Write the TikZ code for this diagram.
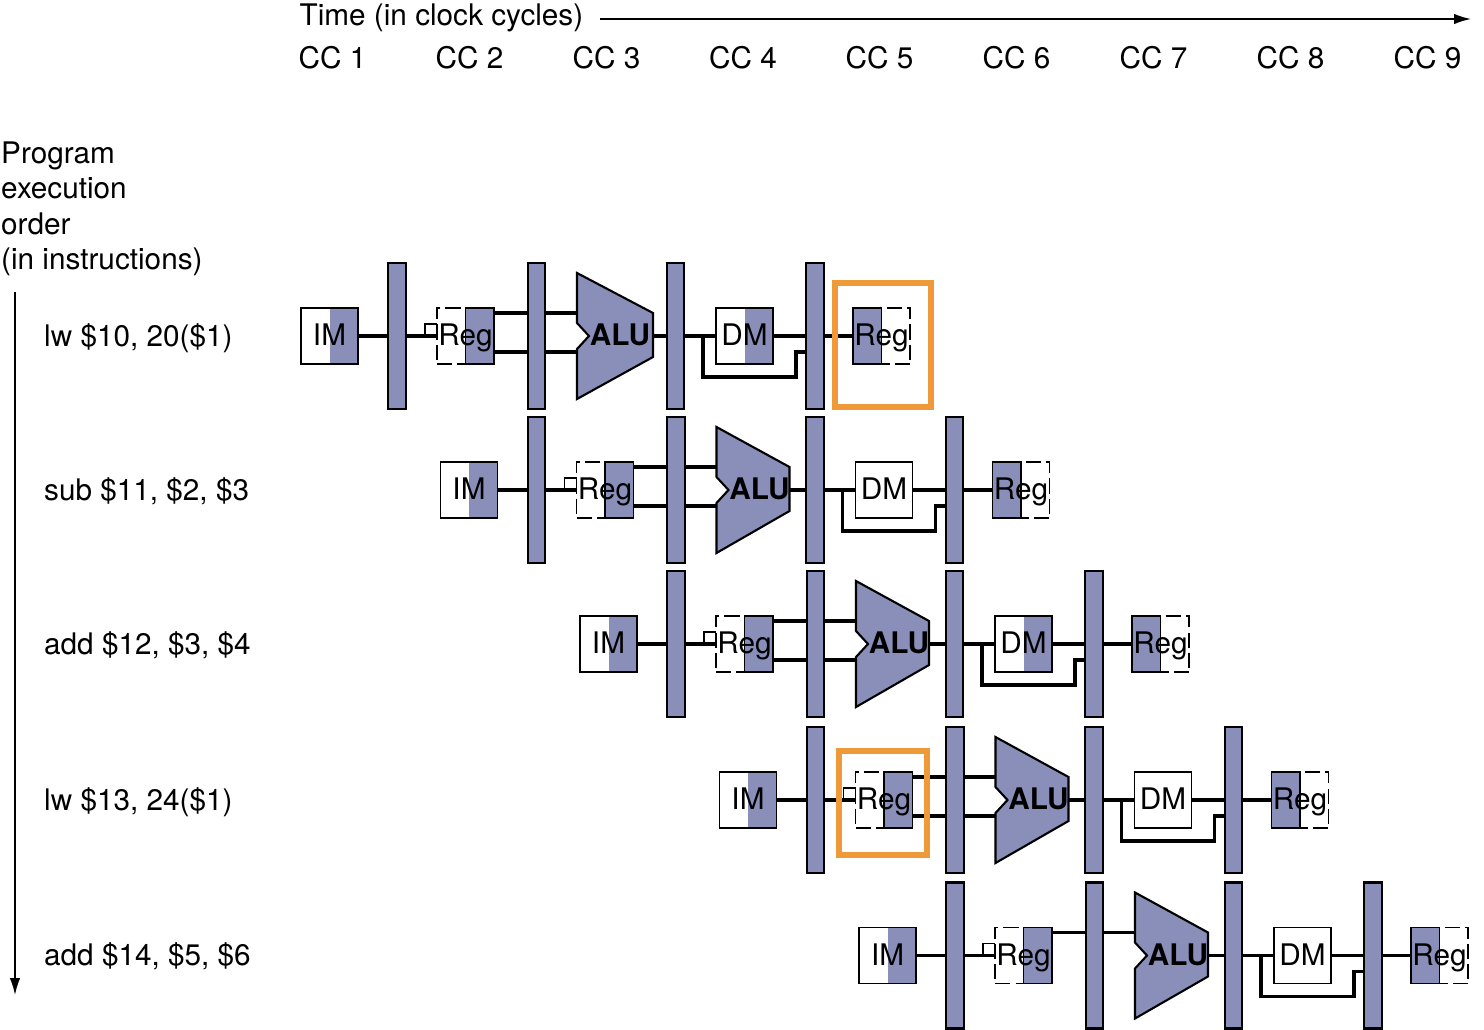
\documentclass[tikz,border=0pt]{standalone}
\usepackage{fontspec}
\setmainfont{TeX Gyre Heros}
\usepackage{xcolor}
\usetikzlibrary{arrows.meta, backgrounds}
\definecolor{pipeblue}{HTML}{8A8FBA}
\definecolor{hazardorange}{HTML}{EF9A38}
\tikzset{
  pipetext/.style={font=\fontsize{8.45}{10.09}\selectfont},
  cyclelabel/.style={pipetext, anchor=base west, inner sep=0pt},
  instrlabel/.style={pipetext, anchor=base west, inner sep=0pt},
  stagebox/.style={
    pipetext, inner sep=0pt, outer sep=0pt, text height=0.25cm, text depth=0.06cm,
    minimum width=0.57cm, minimum height=0.56cm
  },
  leftshade/.style={
    path picture={\fill[pipeblue] (path picture bounding box.south west)
      rectangle (path picture bounding box.north);}
  },
  rightshade/.style={
    path picture={\fill[pipeblue] (path picture bounding box.south)
      rectangle (path picture bounding box.north east);}
  },
  noshade/.style={},
  solidbox/.style={stagebox, draw, line width=0.5pt},
  latchbar/.style={
    draw, fill=pipeblue, line width=0.6pt, inner sep=0pt, outer sep=0pt,
    minimum width=0.175cm, minimum height=1.46cm
  },
  alushape/.style={draw, fill=pipeblue, line width=0.6pt, line join=miter},
  alulabel/.style={
    font=\fontsize{8.45}{10.09}\selectfont\bfseries, inner sep=0pt,
    text height=0.25cm, text depth=0.06cm
  },
  wire/.style={line width=1pt},
  stubline/.style={line width=0.4pt},
  regoutline/.style={line width=0.5pt},
  regdash/.style={line width=0.5pt, dash pattern=on 0.15cm off 0.05cm, dash phase=0.15cm},
  timearrow/.style={line width=0.5pt, -{Latex[length=1.7mm, width=1.05mm]}},
  hazardbox/.style={
    draw=hazardorange, line width=1.7pt, inner sep=0pt, outer sep=0pt
  },
}
\begin{document}
\begin{tikzpicture}[x=0.01cm, y=-0.01cm]
  \useasboundingbox (0,0) rectangle (1484,1030);

  % --- Time axis ---
  \node[cyclelabel] (timelabel) at (299,25) {Time (in clock cycles)};
  \coordinate (timestart) at (600,19);
  \coordinate (timeend) at (1471,19);
  \draw[timearrow] (timestart) -- (timeend);

  % --- Clock cycles ---
  \foreach \c/\x in {1/298, 2/435, 3/572, 4/708.5, 5/845, 6/982, 7/1119, 8/1256, 9/1393}
    \node[cyclelabel] (cc\c) at (\x,68.5) {CC \c};

  % --- Order axis ---
  \node[pipetext, anchor=base west, align=left, inner sep=0pt] (orderlabel) at (0.5,269.5)
    {Program\\execution\\order\\(in instructions)};
  \coordinate (orderstart) at (15,292);
  \coordinate (orderend) at (15,995);
  \draw[timearrow] (orderstart) -- (orderend);

  % --- Instructions ---
  \node[instrlabel] (instr1) at (43.5,346) {lw \$10, 20(\$1)};
  \node[instrlabel] (instr2) at (43.5,500) {sub \$11, \$2, \$3};
  \node[instrlabel] (instr3) at (43.5,654) {add \$12, \$3, \$4};
  \node[instrlabel] (instr4) at (43.5,810) {lw \$13, 24(\$1)};
  \node[instrlabel] (instr5) at (43.5,965) {add \$14, \$5, \$6};

  % --- Pipeline rows ---
  \foreach \r/\dx/\cy/\dmfill/\aluright in {1/0/336/rightshade/653, 2/139.5/490/noshade/650,
      3/279/644/rightshade/650, 4/418.5/800/noshade/650, 5/558/955.5/noshade/650} {
    \begin{scope}[shift={(\dx,\cy)}]
      % stages
      \node[solidbox, rightshade] (im\r) at (329.5,0) {IM};
      \node[latchbar] (latchA\r) at (397,0) {};
      \node[stagebox, rightshade] (regid\r) at (465.5,0) {Reg};
      \draw[regdash] (regid\r.north) -- (regid\r.north west)
        -- (regid\r.south west) -- (regid\r.south);
      \draw[regoutline] (regid\r.north) rectangle (regid\r.south east);
      \node[latchbar] (latchB\r) at (536.5,0) {};
      \draw[alushape] (577,-63) -- (\aluright,-23) -- (\aluright,21) -- (577,63)
        -- (577,13) -- (589,0) -- (577,-13) -- cycle;
      \node[alulabel] (alu\r) at (620,0) {ALU};
      \node[latchbar] (latchC\r) at (675.5,0) {};
      \node[solidbox, \dmfill] (dm\r) at (744.5,0) {DM};
      \node[latchbar] (latchD\r) at (815,0) {};
      \node[stagebox, leftshade] (regwb\r) at (881.5,0) {Reg};
      \draw[regdash] (regwb\r.north) -- (regwb\r.north east)
        -- (regwb\r.south east) -- (regwb\r.south);
      \draw[regoutline] (regwb\r.north) rectangle (regwb\r.south west);

      % connector ends
      \coordinate (aluout\r) at (\aluright,0);
      \coordinate (aluup\r) at (577,-23);
      \coordinate (alulow\r) at (577,16);
      \coordinate (stubfoot\r) at (425,0);
      \coordinate (stubend\r) at (437,-12);
      \coordinate (tap\r) at (703,0);
      \coordinate (turn\r) at (796,41);
      \coordinate (back\r) at (806,16);

      % wires
      \begin{pgfonlayer}{background}
        \draw[wire] (im\r) -- (latchA\r);
        \draw[wire] (latchA\r) -- (regid\r);
        \draw[wire] (regid\r.east |- aluup\r) -- (aluup\r);
        \ifnum\r<5
          \draw[wire] (regid\r.east |- alulow\r) -- (alulow\r);
        \fi
        \draw[wire] (aluout\r) -- (latchC\r);
        \draw[wire] (latchC\r) -- (dm\r);
        \draw[wire] (dm\r) -- (latchD\r);
        \draw[wire] (latchD\r) -- (regwb\r);
        \draw[wire] (tap\r) |- (turn\r) |- (back\r);
      \end{pgfonlayer}
      \draw[stubline] (stubfoot\r) |- (stubend\r);
    \end{scope}
  }

  % --- Hazard boxes ---
  \node[hazardbox, minimum width=0.96cm, minimum height=1.24cm] (hazardwb) at (883,345) {};
  \node[hazardbox, minimum width=0.88cm, minimum height=1.04cm] (hazardid) at (883,803) {};
\end{tikzpicture}
\end{document}
